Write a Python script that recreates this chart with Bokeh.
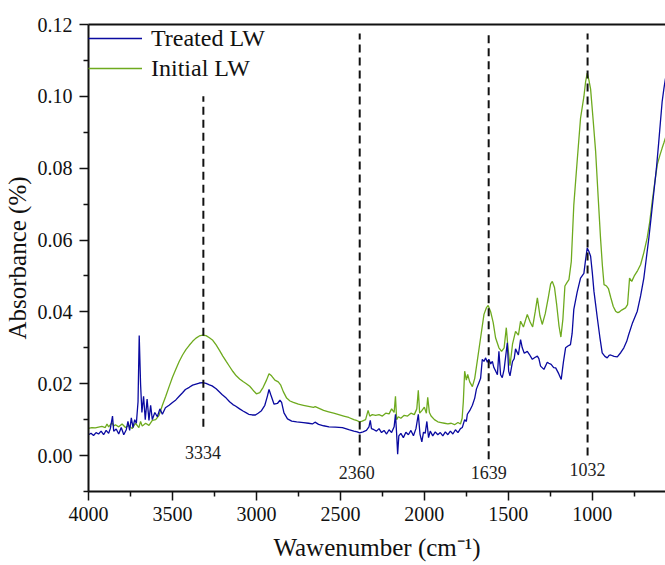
from bokeh.plotting import figure
from bokeh.models import (Range1d, FixedTicker, PrintfTickFormatter, LinearAxis,
                          Legend, LegendItem, ColumnDataSource)
from bokeh.core.properties import value
from bokeh.embed import file_html
from bokeh.resources import INLINE

# ---------------- data ----------------
initial_lw = [
    (4000, 0.0076), (3980, 0.0078), (3960, 0.0077), (3940, 0.0079), (3920, 0.0081),
    (3900, 0.0078), (3890, 0.0088), (3880, 0.0080), (3860, 0.0092), (3850, 0.0082),
    (3840, 0.0086), (3820, 0.0080), (3800, 0.0088), (3780, 0.0078), (3760, 0.0084),
    (3740, 0.0075), (3720, 0.0090), (3700, 0.0078), (3690, 0.0095), (3680, 0.0082),
    (3660, 0.0090), (3640, 0.0084), (3620, 0.0098), (3600, 0.0100), (3580, 0.0112),
    (3560, 0.0140), (3540, 0.0165), (3520, 0.0192), (3500, 0.0218), (3480, 0.0240),
    (3460, 0.0262), (3440, 0.0280), (3420, 0.0295), (3400, 0.0307), (3380, 0.0318),
    (3360, 0.0327), (3340, 0.0333), (3320, 0.0335), (3300, 0.0334), (3280, 0.0328),
    (3260, 0.0321), (3240, 0.0308), (3220, 0.0293), (3200, 0.0277), (3180, 0.0262),
    (3160, 0.0248), (3140, 0.0234), (3120, 0.0222), (3100, 0.0213), (3080, 0.0206),
    (3060, 0.0200), (3040, 0.0193), (3020, 0.0182), (3000, 0.0172), (2980, 0.0175),
    (2960, 0.0190), (2940, 0.0210), (2925, 0.0228), (2910, 0.0222), (2890, 0.0210),
    (2870, 0.0205), (2855, 0.0196), (2840, 0.0178), (2820, 0.0160), (2800, 0.0152),
    (2780, 0.0148), (2750, 0.0143), (2720, 0.0140), (2690, 0.0137), (2660, 0.0134),
    (2650, 0.0136), (2630, 0.0132), (2600, 0.0126), (2570, 0.0122), (2540, 0.0118),
    (2510, 0.0114), (2480, 0.0110), (2450, 0.0106), (2420, 0.0100), (2400, 0.0097),
    (2385, 0.0094), (2370, 0.0096), (2350, 0.0100), (2335, 0.0126), (2325, 0.0110),
    (2310, 0.0114), (2290, 0.0112), (2270, 0.0114), (2250, 0.0110), (2230, 0.0118),
    (2210, 0.0116), (2195, 0.0130), (2180, 0.0120), (2172, 0.0165), (2165, 0.0100),
    (2155, 0.0108), (2140, 0.0104), (2120, 0.0112), (2100, 0.0110), (2080, 0.0118),
    (2060, 0.0114), (2045, 0.0130), (2036, 0.0182), (2028, 0.0118), (2015, 0.0125),
    (2000, 0.0135), (1988, 0.0118), (1980, 0.0162), (1970, 0.0120), (1960, 0.0110),
    (1940, 0.0100), (1920, 0.0094), (1900, 0.0092), (1880, 0.0090), (1860, 0.0088),
    (1840, 0.0090), (1820, 0.0086), (1800, 0.0092), (1785, 0.0088), (1775, 0.0104),
    (1768, 0.0150), (1760, 0.0235), (1750, 0.0210), (1742, 0.0226), (1730, 0.0205),
    (1714, 0.0192), (1700, 0.0215), (1685, 0.0263), (1665, 0.0328), (1645, 0.0393),
    (1630, 0.0412), (1620, 0.0418), (1605, 0.0400), (1590, 0.0370), (1576, 0.0328),
    (1556, 0.0300), (1540, 0.0290), (1525, 0.0300), (1512, 0.0356), (1502, 0.0300),
    (1490, 0.0250), (1475, 0.0310), (1457, 0.0346), (1440, 0.0335), (1427, 0.0374),
    (1410, 0.0358), (1387, 0.0393), (1370, 0.0372), (1355, 0.0358), (1340, 0.0400),
    (1327, 0.0439), (1312, 0.0390), (1298, 0.0365), (1280, 0.0395), (1262, 0.0440),
    (1248, 0.0478), (1238, 0.0485), (1225, 0.0468), (1212, 0.0420), (1198, 0.0360),
    (1187, 0.0330), (1175, 0.0380), (1163, 0.0472), (1150, 0.0482), (1139, 0.0490),
    (1125, 0.0540), (1110, 0.0698), (1090, 0.0820), (1070, 0.0939), (1050, 0.0999),
    (1040, 0.1040), (1030, 0.1065), (1020, 0.1045), (1010, 0.1020), (995, 0.0935),
    (980, 0.0846), (965, 0.0720), (951, 0.0606), (940, 0.0530), (930, 0.0476),
    (915, 0.0472), (904, 0.0465), (890, 0.0440), (875, 0.0415), (861, 0.0402),
    (850, 0.0398), (841, 0.0399), (825, 0.0405), (802, 0.0411), (790, 0.0420),
    (778, 0.0494), (765, 0.0485), (750, 0.0500), (730, 0.0515), (712, 0.0532),
    (693, 0.0565), (673, 0.0606), (658, 0.0650), (643, 0.0708), (628, 0.0760),
    (613, 0.0810), (598, 0.0835), (584, 0.0856), (574, 0.0870), (564, 0.0885),
]

treated_lw = [
    (4000, 0.0058), (3985, 0.0062), (3970, 0.0056), (3955, 0.0064), (3940, 0.0060),
    (3925, 0.0068), (3910, 0.0058), (3895, 0.0070), (3880, 0.0062), (3870, 0.0075),
    (3857, 0.0110), (3850, 0.0068), (3835, 0.0074), (3820, 0.0060), (3805, 0.0078),
    (3790, 0.0058), (3775, 0.0072), (3765, 0.0095), (3755, 0.0070), (3745, 0.0105),
    (3735, 0.0078), (3725, 0.0100), (3715, 0.0090), (3705, 0.0150), (3698, 0.0334),
    (3690, 0.0200), (3682, 0.0120), (3672, 0.0165), (3662, 0.0100), (3651, 0.0157),
    (3640, 0.0098), (3630, 0.0140), (3620, 0.0100), (3605, 0.0120), (3590, 0.0108),
    (3575, 0.0130), (3560, 0.0115), (3542, 0.0133), (3520, 0.0140), (3500, 0.0148),
    (3480, 0.0155), (3460, 0.0165), (3440, 0.0175), (3423, 0.0184), (3400, 0.0190),
    (3380, 0.0196), (3360, 0.0199), (3340, 0.0202), (3320, 0.0203), (3300, 0.0201),
    (3280, 0.0197), (3264, 0.0194), (3240, 0.0186), (3220, 0.0177), (3205, 0.0170),
    (3180, 0.0160), (3160, 0.0150), (3140, 0.0142), (3125, 0.0138), (3100, 0.0130),
    (3080, 0.0124), (3060, 0.0119), (3046, 0.0115), (3025, 0.0113), (3006, 0.0113),
    (2990, 0.0118), (2970, 0.0125), (2950, 0.0140), (2935, 0.0165), (2925, 0.0184),
    (2915, 0.0170), (2895, 0.0143), (2875, 0.0145), (2860, 0.0154), (2850, 0.0148),
    (2836, 0.0119), (2815, 0.0102), (2790, 0.0096), (2760, 0.0094), (2720, 0.0092),
    (2690, 0.0090), (2667, 0.0088), (2651, 0.0093), (2630, 0.0087), (2600, 0.0083),
    (2568, 0.0080), (2530, 0.0079), (2488, 0.0078), (2450, 0.0072), (2420, 0.0068),
    (2400, 0.0066), (2385, 0.0063), (2365, 0.0066), (2345, 0.0070), (2330, 0.0080),
    (2322, 0.0098), (2315, 0.0075), (2300, 0.0072), (2285, 0.0068), (2270, 0.0075),
    (2255, 0.0064), (2240, 0.0070), (2225, 0.0060), (2210, 0.0072), (2195, 0.0064),
    (2180, 0.0080), (2172, 0.0115), (2165, 0.0060), (2159, 0.0004), (2152, 0.0055),
    (2140, 0.0062), (2125, 0.0050), (2110, 0.0065), (2095, 0.0058), (2080, 0.0070),
    (2065, 0.0055), (2050, 0.0075), (2036, 0.0115), (2026, 0.0060), (2015, 0.0038),
    (2005, 0.0065), (1995, 0.0062), (1985, 0.0095), (1975, 0.0050), (1965, 0.0068),
    (1950, 0.0055), (1935, 0.0066), (1920, 0.0058), (1905, 0.0064), (1890, 0.0055),
    (1875, 0.0066), (1860, 0.0058), (1845, 0.0068), (1830, 0.0060), (1815, 0.0072),
    (1800, 0.0064), (1785, 0.0075), (1774, 0.0078), (1760, 0.0100), (1750, 0.0095),
    (1744, 0.0115), (1730, 0.0125), (1714, 0.0140), (1700, 0.0160), (1690, 0.0185),
    (1675, 0.0203), (1665, 0.0215), (1655, 0.0268), (1645, 0.0262), (1635, 0.0272),
    (1625, 0.0260), (1616, 0.0268), (1605, 0.0255), (1595, 0.0262), (1586, 0.0245),
    (1575, 0.0235), (1565, 0.0225), (1556, 0.0290), (1546, 0.0225), (1536, 0.0217),
    (1525, 0.0240), (1506, 0.0314), (1498, 0.0235), (1490, 0.0222), (1475, 0.0262),
    (1465, 0.0270), (1457, 0.0297), (1440, 0.0280), (1427, 0.0323), (1417, 0.0300),
    (1405, 0.0285), (1387, 0.0290), (1375, 0.0282), (1357, 0.0268), (1342, 0.0273),
    (1327, 0.0277), (1318, 0.0270), (1308, 0.0249), (1288, 0.0240), (1268, 0.0260),
    (1259, 0.0257), (1245, 0.0254), (1230, 0.0245), (1218, 0.0244), (1200, 0.0228),
    (1185, 0.0212), (1172, 0.0260), (1159, 0.0300), (1145, 0.0305), (1130, 0.0309),
    (1120, 0.0340), (1110, 0.0407), (1090, 0.0455), (1070, 0.0494), (1050, 0.0507),
    (1040, 0.0545), (1030, 0.0578), (1020, 0.0568), (1010, 0.0555), (1000, 0.0510),
    (990, 0.0457), (980, 0.0420), (970, 0.0383), (955, 0.0330), (941, 0.0286),
    (925, 0.0276), (911, 0.0272), (900, 0.0279), (891, 0.0280), (870, 0.0276),
    (851, 0.0275), (830, 0.0287), (812, 0.0300), (795, 0.0318), (783, 0.0337),
    (760, 0.0370), (732, 0.0402), (712, 0.0445), (693, 0.0494), (678, 0.0550),
    (663, 0.0606), (648, 0.0670), (633, 0.0735), (618, 0.0800), (604, 0.0874),
    (594, 0.0930), (584, 0.0985), (574, 0.1020), (564, 0.1050),
]

peak_labels = ["3334", "2360", "1639", "1032"]
peak_x = [3316, 2385, 1617, 1028]          # dashed marker positions
peak_top = [0.100, 0.1175, 0.1175, 0.1175]
peak_bottom = [0.008, 0.0, -0.001, 0.0]
label_x = [3318, 2403, 1617, 1028]
label_y = [0.0008, -0.0047, -0.0046, -0.0040]

x_ticks = [4000, 3500, 3000, 2500, 2000, 1500, 1000]
x_minor = [3750, 3250, 2750, 2250, 1750, 1250, 750]
y_ticks = [0.00, 0.02, 0.04, 0.06, 0.08, 0.10, 0.12]
y_minor = [-0.01, 0.01, 0.03, 0.05, 0.07, 0.09, 0.11]

FONT = "'Liberation Serif', 'Times New Roman', serif"
BLUE = "#0A0AA0"
GREEN = "#6EAA1E"

# ---------------- figure ----------------
p = figure(width=665, height=565, output_backend="svg", toolbar_location=None,
           x_range=Range1d(4000, 564), y_range=Range1d(-0.01, 0.12),
           min_border_left=88, min_border_right=0, min_border_top=24,
           min_border_bottom=74,
           x_axis_label="Wawenumber (cm\u207b\u00b9)", y_axis_label="Absorbance (%)")
p.outline_line_color = None
p.grid.visible = False
p.background_fill_color = "white"

src_i = ColumnDataSource(dict(x=[a for a, b in initial_lw], y=[b for a, b in initial_lw]))
src_t = ColumnDataSource(dict(x=[a for a, b in treated_lw], y=[b for a, b in treated_lw]))

r_i = p.line("x", "y", source=src_i, line_color=GREEN, line_width=1.3)
r_t = p.line("x", "y", source=src_t, line_color=BLUE, line_width=1.3)

p.segment(x0=peak_x, y0=peak_bottom, x1=peak_x, y1=peak_top,
          line_color="#111111", line_width=2, line_dash="8 5")
p.text(x=label_x, y=label_y, text=peak_labels, text_font=value(FONT),
       text_font_size="18px", text_align="center", text_baseline="middle",
       text_color="#222222")

# axes
for ax in (p.xaxis[0], p.yaxis[0]):
    ax.axis_line_width = 2
    ax.axis_line_color = "#111111"
    ax.major_tick_line_width = 1.5
    ax.minor_tick_line_width = 1.5
    ax.major_tick_line_color = "#111111"
    ax.minor_tick_line_color = "#111111"
    ax.major_tick_in = 0
    ax.major_tick_out = 9
    ax.minor_tick_in = 0
    ax.minor_tick_out = 5
    ax.major_label_text_font = FONT
    ax.major_label_text_font_size = "20px"
    ax.major_label_text_color = "#111111"
    ax.axis_label_text_font = FONT
    ax.axis_label_text_font_size = "25px"
    ax.axis_label_text_font_style = "normal"
    ax.axis_label_text_color = "#111111"

p.xaxis.ticker = FixedTicker(ticks=x_ticks, minor_ticks=x_minor)
p.yaxis.ticker = FixedTicker(ticks=y_ticks, minor_ticks=y_minor)
p.yaxis.formatter = PrintfTickFormatter(format="%.2f")
p.xaxis.major_label_standoff = 6
p.xaxis.axis_label_standoff = 10
p.yaxis.major_label_standoff = 7
p.yaxis.axis_label_standoff = 4

top = LinearAxis(ticker=FixedTicker(ticks=[]), major_label_text_font_size="0px",
                 major_tick_line_color=None, minor_tick_line_color=None,
                 axis_line_width=2, axis_line_color="#111111")
p.add_layout(top, "above")

legend = Legend(items=[LegendItem(label="Treated LW", renderers=[r_t]),
                       LegendItem(label="Initial LW", renderers=[r_i])],
                location="top_left", margin=0, padding=4, spacing=2,
                glyph_width=54, glyph_height=28, label_height=28,
                label_standoff=9, label_text_font=FONT,
                label_text_font_size="24px", label_text_color="#111111",
                border_line_color=None, background_fill_alpha=0)
p.add_layout(legend)

open("out.html", "w").write(file_html(p, INLINE))
